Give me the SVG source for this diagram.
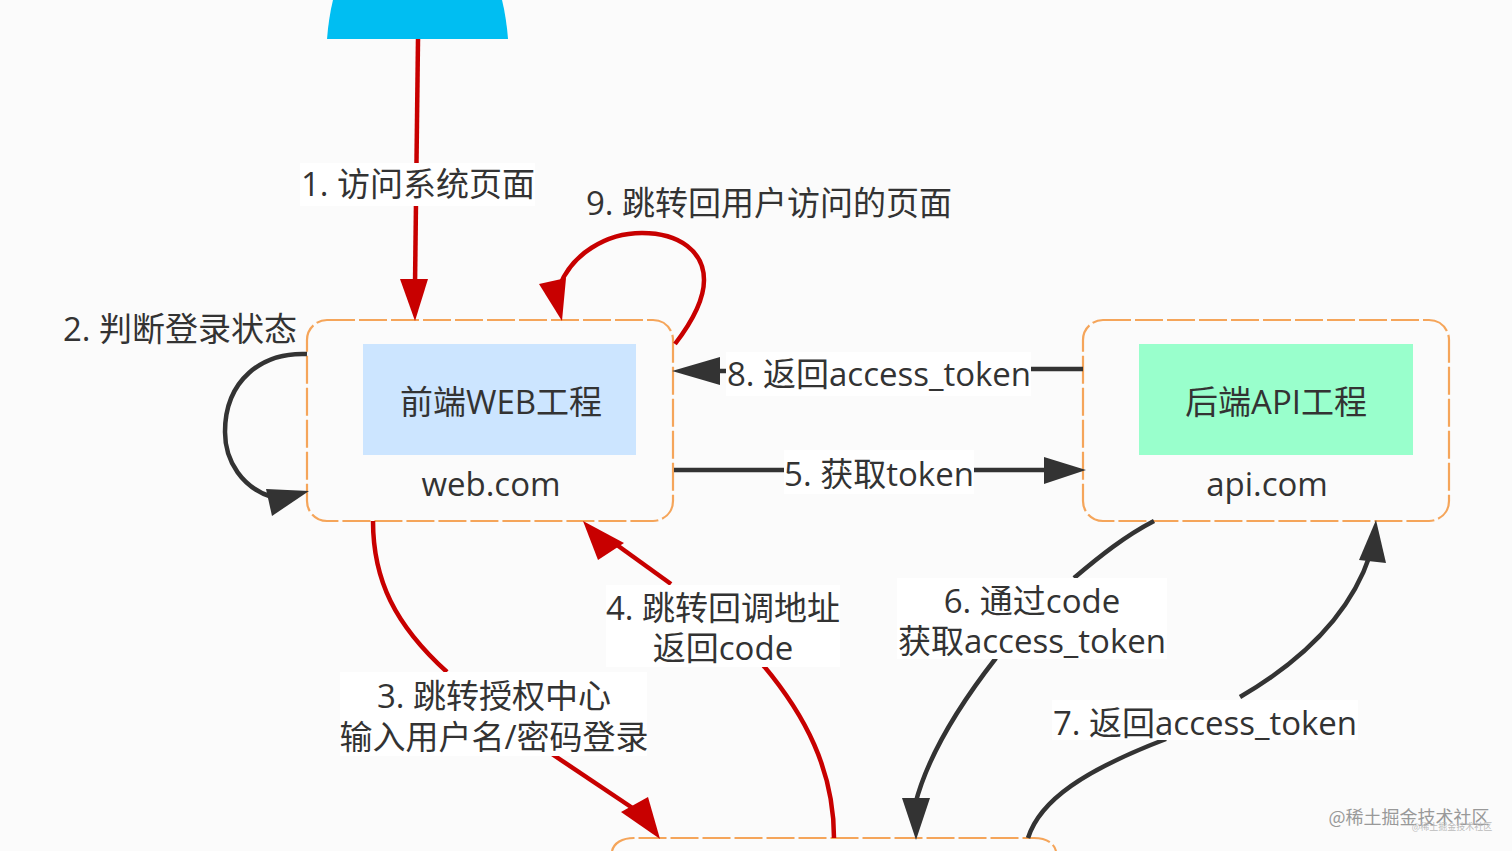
<svg xmlns="http://www.w3.org/2000/svg" width="1512" height="851" viewBox="0 0 1512 851">
<style>
.t{font-family:"Open Sans","Noto Sans CJK SC",sans-serif;font-size:33px;fill:#333;text-anchor:middle;font-weight:400}
.r{fill:none;stroke:#c80000;stroke-width:4.5}
.k{fill:none;stroke:#333;stroke-width:4.5}
.box{fill:#fbfbfb;stroke:#f5a55a;stroke-width:2.2;stroke-dasharray:28 4}
.lb{fill:#fff}
.rh{fill:#c80000}
.kh{fill:#333}
</style>
<rect width="1512" height="851" fill="#fbfbfb"/>
<g id="user"><path d="M333 0C330 12 328 26 327 39H508C507 26 505 12 502 0Z" fill="#00bef2"/></g>
<g id="web"><rect class="box" x="307" y="320" width="366" height="201" rx="20"/><rect x="363" y="344" width="273" height="111" fill="#cce5ff"/><text class="t" x="501" y="414">前端WEB工程</text><text class="t" x="491" y="496">web.com</text></g>
<g id="api"><rect class="box" x="1083" y="320" width="366" height="201" rx="20"/><rect x="1139" y="344" width="274" height="111" fill="#99ffcc"/><text class="t" x="1276" y="414">后端API工程</text><text class="t" x="1267" y="496">api.com</text></g>
<g id="auth"><path class="box" d="M612 851C614 843 622 838 634 838H1034C1046 838 1054 843 1056 851"/></g>
<g id="connectors">
<path class="r" d="M418 39L415 285"/><path class="rh" d="M400 279H428L415 321Z"/>
<path class="k" d="M307 354C262 352 225 380 225 432C225 462 243 488 272 497"/><path class="kh" d="M309 491L272 516L266 489Z"/>
<path class="r" d="M675 344C695 318 704 298 704 280C704 252 680 233 642 233C605 233 572 255 560 285"/><path class="rh" d="M539 284L566 278L562 321Z"/>
<path class="r" d="M373 521C373 580 395 625 447 672"/><path class="r" d="M549 752L634 809"/><path class="rh" d="M660 839L621 812L648 797Z"/>
<path class="r" d="M834 838C834 770 805 715 763 665"/><path class="r" d="M671 584L610 540"/><path class="rh" d="M583 521L624 543L598 560Z"/>
<path class="k" d="M674 470H1050"/><path class="kh" d="M1044 457L1086 470L1044 484Z"/>
<path class="k" d="M1083 369H1030"/><path class="k" d="M726 371H712"/><path class="kh" d="M720 357V385L672 371Z"/>
<path class="k" d="M1154 521C1125 536 1100 556 1074 578"/><path class="k" d="M996 658C950 717 925 765 915 805"/><path class="kh" d="M902 798H930L916 840Z"/>
<path class="k" d="M1028 838C1040 800 1085 770 1166 739"/><path class="k" d="M1240 697C1300 662 1350 615 1370 555"/><path class="kh" d="M1359 560L1376 520L1386 563Z"/>
</g>
<g id="labels">
<rect class="lb" x="300" y="163" width="235" height="43"/><text class="t" x="418" y="196">1. 访问系统页面</text>
<text class="t" x="180" y="341">2. 判断登录状态</text>
<text class="t" x="769" y="215">9. 跳转回用户访问的页面</text>
<rect class="lb" x="726" y="352" width="305" height="44"/><text class="t" x="879" y="386">8. 返回access_token</text>
<rect class="lb" x="784" y="450" width="190" height="44"/><text class="t" x="879" y="486">5. 获取token</text>
<rect class="lb" x="340" y="672" width="307" height="84"/><text class="t" x="494" y="708">3. 跳转授权中心</text><text class="t" x="494" y="749">输入用户名/密码登录</text>
<rect class="lb" x="606" y="585" width="234" height="82"/><text class="t" x="723" y="620">4. 跳转回调地址</text><text class="t" x="723" y="660">返回code</text>
<rect class="lb" x="897" y="578" width="270" height="81"/><text class="t" x="1032" y="613">6. 通过code</text><text class="t" x="1032" y="653">获取access_token</text>
<rect class="lb" x="1052" y="700" width="306" height="40"/><text class="t" x="1205" y="735">7. 返回access_token</text>
<text x="1409" y="824" font-family="'Noto Sans CJK SC',sans-serif" font-size="18" fill="#999" text-anchor="middle">@稀土掘金技术社区</text>
<text x="1452" y="830" font-family="'Noto Sans CJK SC',sans-serif" font-size="9" fill="#bbb" text-anchor="middle">@稀土掘金技术社区</text>
</g>
</svg>
